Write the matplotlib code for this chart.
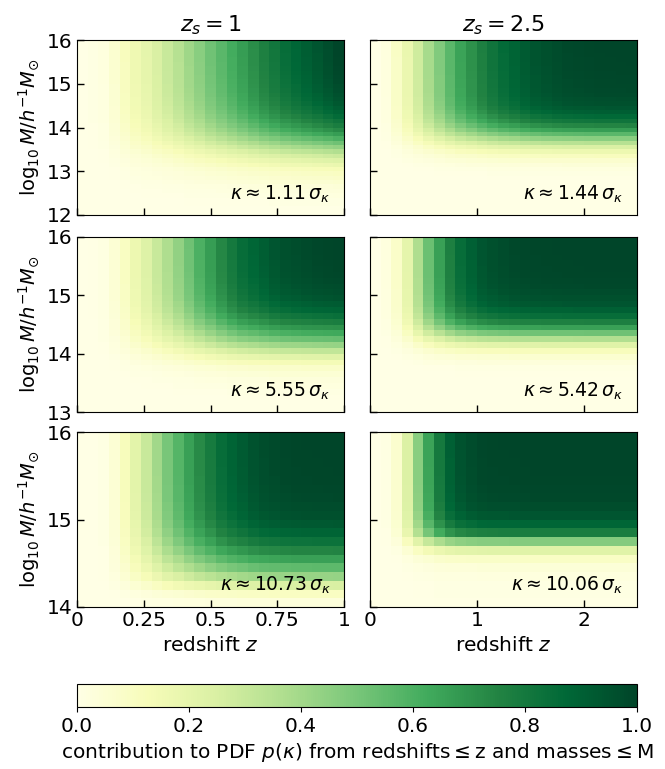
import numpy as np
import matplotlib
matplotlib.use("Agg")
import matplotlib.pyplot as plt


# redshift grids (cell centres) for the two source redshifts
z_grid_1 = np.linspace(0.02, 0.98, 25)      # z_s = 1
z_grid_25 = np.linspace(0.05, 2.45, 25)     # z_s = 2.5

# mass grids (cell centres, log10 M) for the three rows
m_grid_row1 = np.round(np.arange(12.05, 16.0, 0.1), 2)
m_grid_row2 = np.round(np.arange(13.05, 16.0, 0.1), 2)
m_grid_row3 = np.round(np.arange(14.05, 16.0, 0.1), 2)

kappa_labels = [["1.11", "1.44"], ["5.55", "5.42"], ["10.73", "10.06"]]

zcum_r1_zs1 = [0.0, 0.01, 0.02, 0.06, 0.11, 0.16, 0.20, 0.25, 0.30, 0.35, 0.41, 0.46, 0.52,
               0.57, 0.62, 0.67, 0.72, 0.77, 0.81, 0.85, 0.88, 0.91, 0.94, 0.97, 1.0]
zcum_r1_zs25 = [0.0, 0.02, 0.09, 0.18, 0.28, 0.39, 0.48, 0.57, 0.65, 0.71, 0.77, 0.82, 0.86,
                0.89, 0.92, 0.945, 0.96, 0.975, 0.985, 0.99, 0.994, 0.997, 0.998, 0.999, 1.0]
zcum_r2_zs1 = [0.0, 0.005, 0.015, 0.05, 0.10, 0.17, 0.23, 0.30, 0.37, 0.44, 0.52, 0.60, 0.67,
               0.74, 0.80, 0.85, 0.88, 0.91, 0.94, 0.96, 0.97, 0.98, 0.99, 0.995, 1.0]
zcum_r2_zs25 = [0.0, 0.02, 0.08, 0.20, 0.37, 0.53, 0.66, 0.77, 0.85, 0.90, 0.94, 0.96, 0.975,
                0.985, 0.99, 0.993, 0.995, 0.997, 0.998, 0.999, 1.0, 1.0, 1.0, 1.0, 1.0]
zcum_r3_zs1 = [0.0, 0.003, 0.01, 0.05, 0.12, 0.21, 0.30, 0.40, 0.50, 0.58, 0.66, 0.73, 0.79,
               0.85, 0.89, 0.92, 0.95, 0.97, 0.98, 0.99, 0.995, 0.997, 0.998, 0.999, 1.0]
zcum_r3_zs25 = [0.0, 0.01, 0.07, 0.24, 0.46, 0.65, 0.80, 0.90, 0.95, 0.975, 0.99, 0.995, 0.997,
                0.998, 0.999, 1.0, 1.0, 1.0, 1.0, 1.0, 1.0, 1.0, 1.0, 1.0, 1.0]

mcum_r1_zs1 = [0.0, 0.0, 0.01, 0.01, 0.02, 0.03, 0.04, 0.06, 0.08, 0.10,
               0.13, 0.18, 0.23, 0.29, 0.36, 0.44, 0.52, 0.60, 0.67, 0.73,
               0.78, 0.82, 0.86, 0.89, 0.91, 0.93, 0.945, 0.955, 0.965, 0.972,
               0.978, 0.983, 0.987, 0.99, 0.993, 0.995, 0.997, 0.998, 0.999, 1.0]
mcum_r1_zs25 = [0.0, 0.0, 0.0, 0.0, 0.0, 0.0, 0.0, 0.0, 0.005, 0.01,
                0.02, 0.04, 0.07, 0.11, 0.17, 0.25, 0.35, 0.46, 0.57, 0.67,
                0.75, 0.82, 0.87, 0.91, 0.94, 0.96, 0.97, 0.98, 0.985, 0.988,
                0.99, 0.992, 0.994, 0.996, 0.997, 0.998, 0.999, 1.0, 1.0, 1.0]
mcum_r2_zs1 = [0.0, 0.0, 0.005, 0.01, 0.02, 0.03, 0.05, 0.08, 0.14, 0.22,
               0.32, 0.43, 0.54, 0.63, 0.71, 0.78, 0.84, 0.89, 0.92, 0.95,
               0.965, 0.975, 0.983, 0.99, 0.993, 0.996, 0.998, 0.999, 1.0, 1.0]
mcum_r2_zs25 = [0.0, 0.0, 0.0, 0.0, 0.0, 0.0, 0.005, 0.01, 0.03, 0.06,
                0.12, 0.22, 0.36, 0.52, 0.66, 0.77, 0.85, 0.90, 0.94, 0.96,
                0.975, 0.985, 0.99, 0.995, 0.997, 0.998, 0.999, 1.0, 1.0, 1.0]
mcum_r3_zs1 = [0.03, 0.10, 0.25, 0.43, 0.56, 0.66, 0.75, 0.83, 0.89, 0.93,
               0.96, 0.975, 0.985, 0.99, 0.995, 0.997, 0.998, 0.999, 1.0, 1.0]
mcum_r3_zs25 = [0.005, 0.01, 0.01, 0.02, 0.04, 0.09, 0.22, 0.47, 0.78, 0.88,
                0.94, 0.97, 0.985, 0.99, 0.995, 0.997, 0.998, 0.999, 1.0, 1.0]

zcum = [[zcum_r1_zs1, zcum_r1_zs25], [zcum_r2_zs1, zcum_r2_zs25], [zcum_r3_zs1, zcum_r3_zs25]]
mcum = [[mcum_r1_zs1, mcum_r1_zs25], [mcum_r2_zs1, mcum_r2_zs25], [mcum_r3_zs1, mcum_r3_zs25]]
m_grids = [m_grid_row1, m_grid_row2, m_grid_row3]
z_grids = [z_grid_1, z_grid_25]
ylims = [(12, 16), (13, 16), (14, 16)]
titles = [r"$z_s = 1$", r"$z_s = 2.5$"]

fig = plt.figure(figsize=(6.65, 7.69), dpi=100)

W, H = 665.0, 769.0
col_x = [77, 370]
col_w = 267
row_y = [40, 237, 432]
row_h = 175

for r in range(3):
    for c in range(2):
        left = col_x[c] / W
        bottom = 1 - (row_y[r] + row_h) / H
        ax = fig.add_axes([left, bottom, col_w / W, row_h / H])

        grid = np.outer(mcum[r][c], zcum[r][c])
        mesh = ax.pcolormesh(z_grids[c], m_grids[r], grid, cmap="YlGn",
                             vmin=0, vmax=1, shading="nearest")

        if c == 0:
            ax.set_xlim(0, 1)
            ax.set_xticks([0, 0.25, 0.5, 0.75, 1])
            ax.set_xticklabels(["0", "0.25", "0.5", "0.75", "1"])
        else:
            ax.set_xlim(0, 2.5)
            ax.set_xticks([0, 1, 2])
            ax.set_xticklabels(["0", "1", "2"])
        ax.set_ylim(*ylims[r])
        ax.set_yticks(np.arange(ylims[r][0], ylims[r][1] + 1))

        ax.tick_params(direction="in", labelsize=14.5, length=5, width=1, pad=3)
        if c == 1:
            ax.tick_params(labelleft=False)
        else:
            ax.set_ylabel(r"$\log_{10} M/h^{-1}M_{\odot}$", fontsize=14)
        if r < 2:
            ax.tick_params(labelbottom=False)
        else:
            ax.set_xlabel(r"redshift $z$", fontsize=14.5)
        if r == 0:
            ax.set_title(titles[c], fontsize=16, pad=6)

        ax.text(0.95, 0.06, r"$\kappa \approx %s\,\sigma_\kappa$" % kappa_labels[r][c],
                transform=ax.transAxes, ha="right", va="bottom", fontsize=13.5)

cax = fig.add_axes([77 / W, 1 - 707 / H, (637 - 77) / W, 23 / H])
cb = fig.colorbar(mesh, cax=cax, orientation="horizontal")
cb.set_ticks([0.0, 0.2, 0.4, 0.6, 0.8, 1.0])
cb.ax.tick_params(labelsize=14.5)
cb.set_label(r"contribution to PDF $p(\kappa)$ from redshifts$\leq$z and masses$\leq$M",
             fontsize=14.5)

fig.savefig("out.png", dpi=100)
